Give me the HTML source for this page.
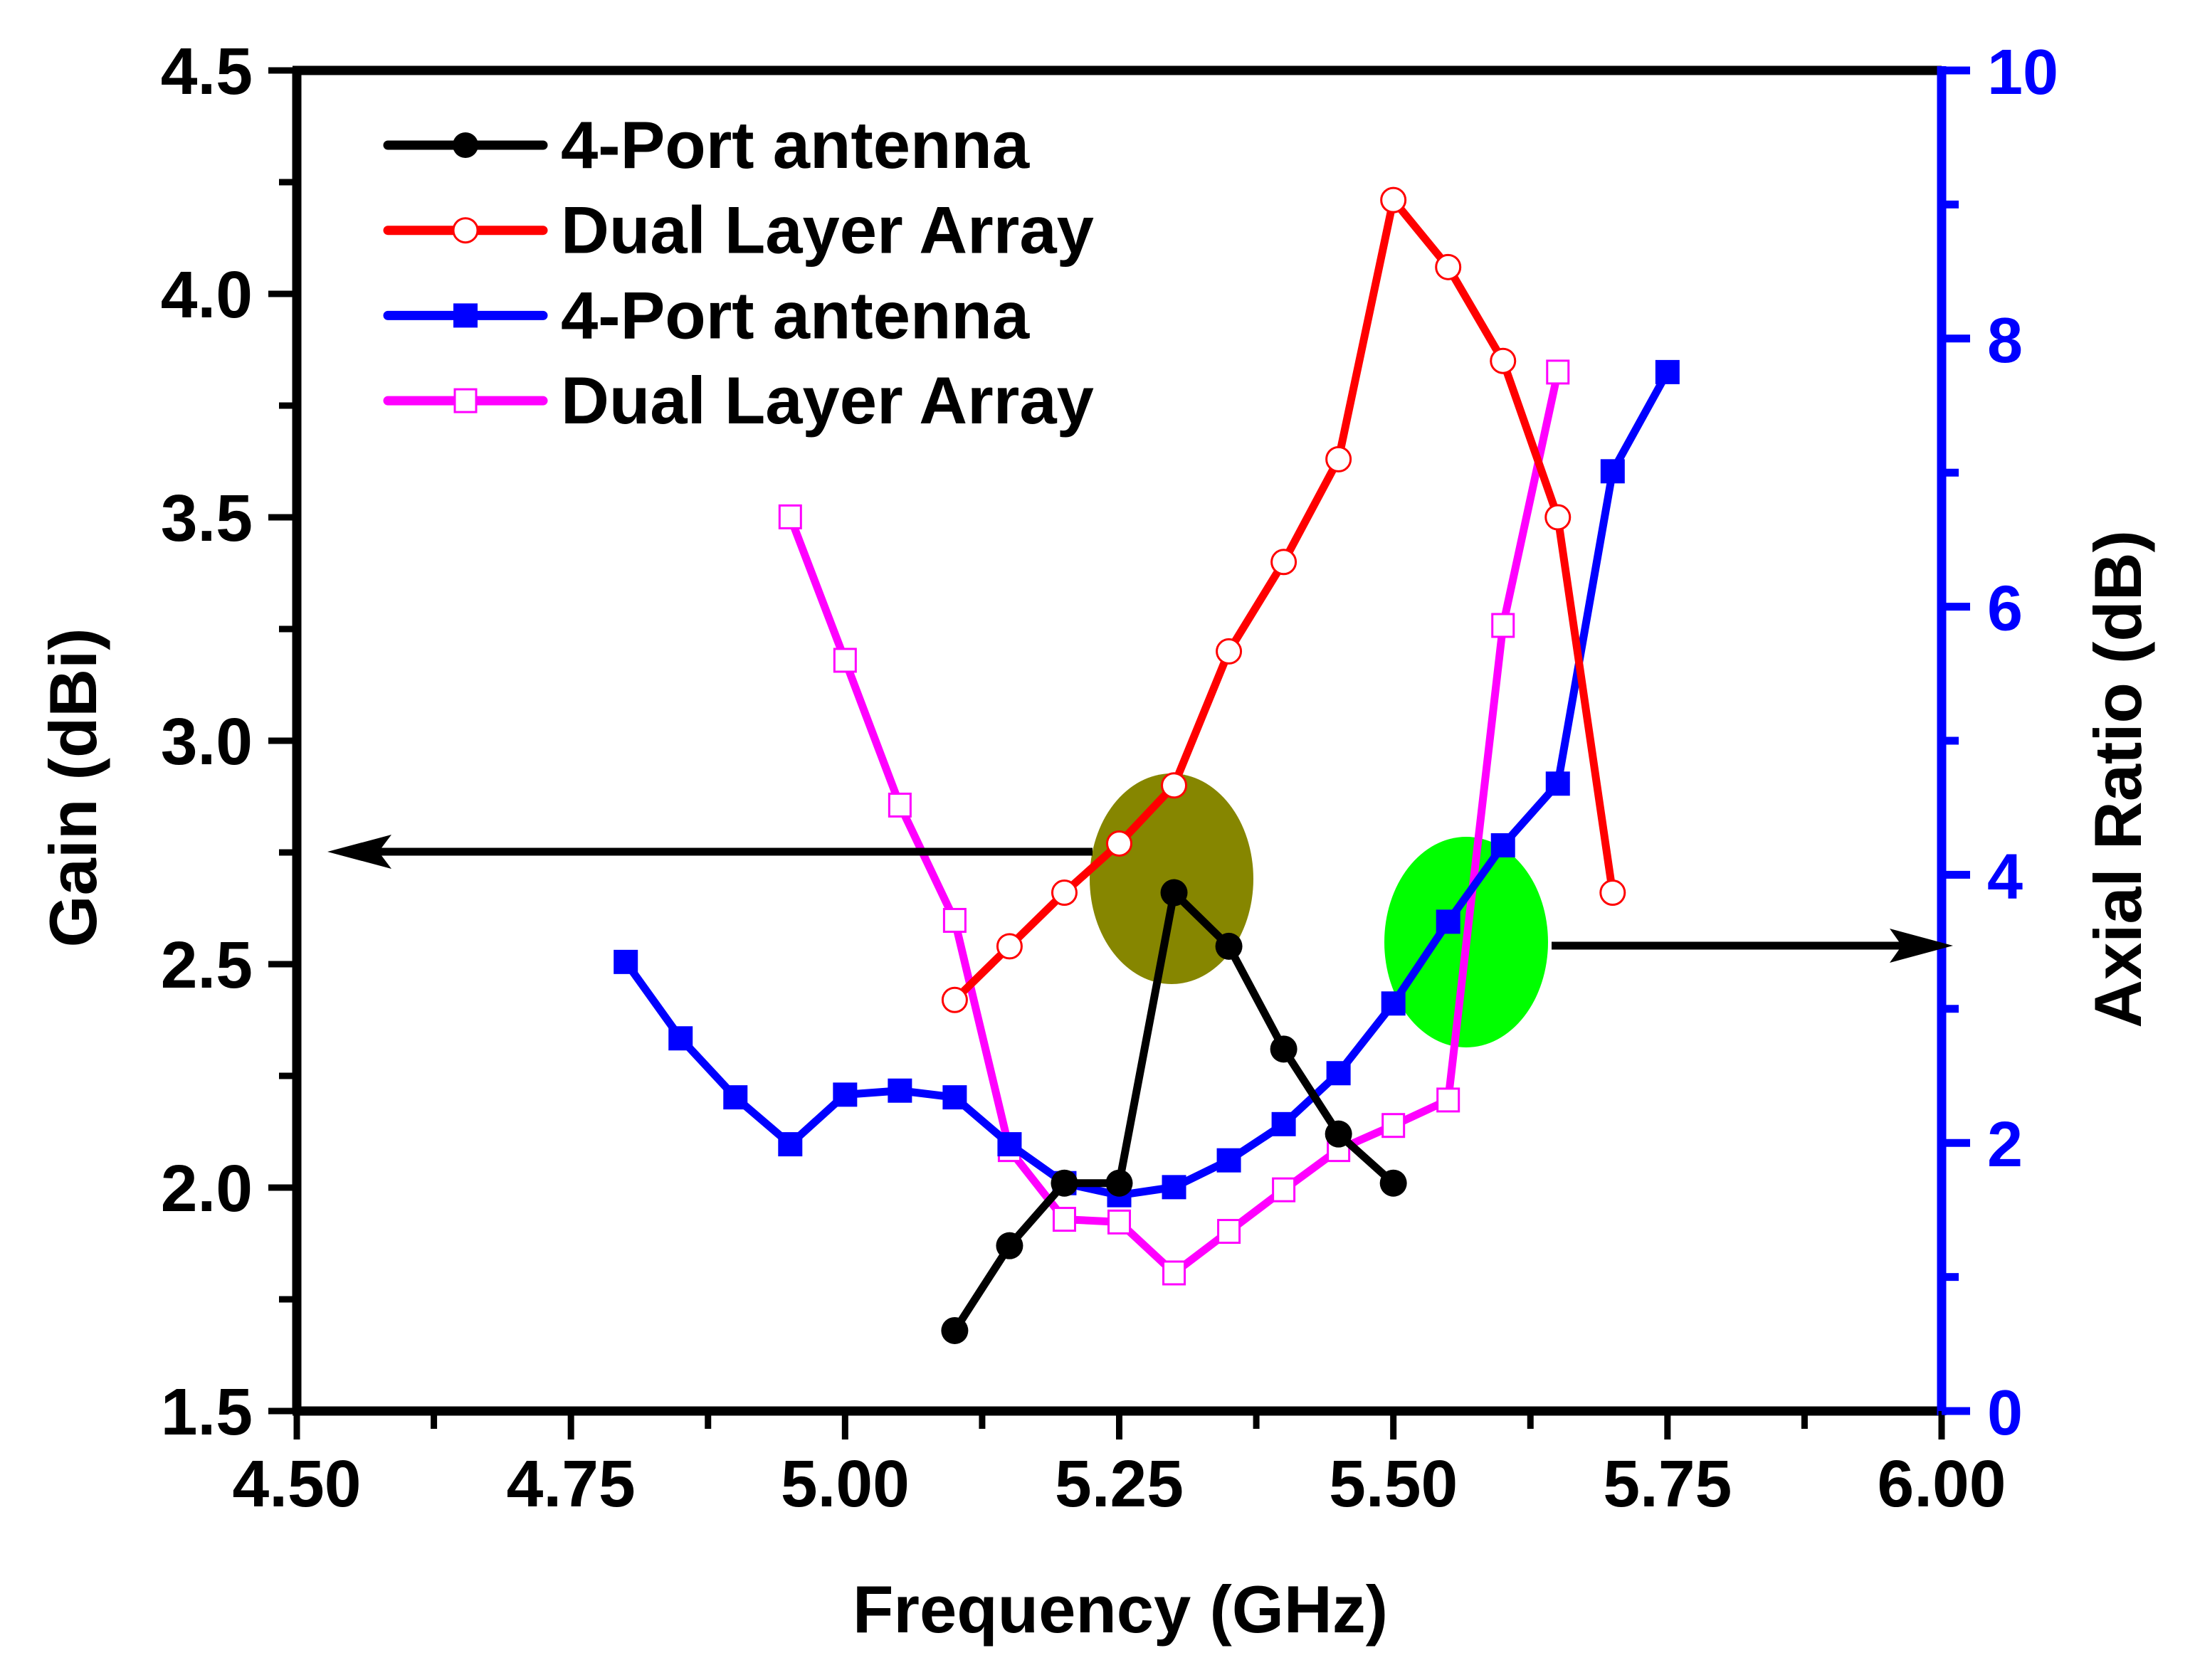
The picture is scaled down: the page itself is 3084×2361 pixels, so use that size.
<!DOCTYPE html>
<html><head><meta charset="utf-8"><style>
html,body{margin:0;padding:0;background:#fff;}
svg{display:block;}
text{font-family:"Liberation Sans",Arial,sans-serif;font-weight:bold;}
</style></head><body>
<svg id="chart" width="3084" height="2361" viewBox="0 0 3084 2361" xmlns="http://www.w3.org/2000/svg">
<rect x="0" y="0" width="3084" height="2361" fill="#fff"/>
<g id="annot">
<ellipse cx="1646" cy="1235" rx="115" ry="148" fill="#868600"/>
<ellipse cx="2060" cy="1324" rx="115" ry="148" fill="#00ff00"/>
</g>
<g id="series"></g>
<g id="axes"></g>
<g id="arrows">
<line x1="1535" y1="1197" x2="510" y2="1197" stroke="#000" stroke-width="11"/>
<polygon points="460,1197 550,1173 532,1197 550,1221" fill="#000"/>
<line x1="2180" y1="1329" x2="2690" y2="1329" stroke="#000" stroke-width="11"/>
<polygon points="2744,1329 2655,1305 2672,1329 2655,1353" fill="#000"/>
</g>
<g id="legend"></g>
<text x="1574" y="2294" font-size="94" text-anchor="middle">Frequency (GHz)</text>
<text transform="translate(135,1107) rotate(-90)" font-size="94" text-anchor="middle">Gain (dBi)</text>
<text transform="translate(3008,1095) rotate(-90)" font-size="94" text-anchor="middle">Axial Ratio (dB)</text>
</svg>
<script>
const freqBlack=[5.10,5.15,5.20,5.25,5.30,5.35,5.40,5.45,5.50];
const gainBlack=[1.68,1.87,2.01,2.01,2.66,2.54,2.31,2.12,2.01];
const freqRed=[5.10,5.15,5.20,5.25,5.30,5.35,5.40,5.45,5.50,5.55,5.60,5.65,5.70];
const gainRed=[2.42,2.54,2.66,2.77,2.90,3.20,3.40,3.63,4.21,4.06,3.85,3.50,2.66];
const freqBlue=[4.80,4.85,4.90,4.95,5.00,5.05,5.10,5.15,5.20,5.25,5.30,5.35,5.40,5.45,5.50,5.55,5.60,5.65,5.70,5.75];
const arBlue=[3.35,2.78,2.34,1.99,2.36,2.39,2.34,1.99,1.70,1.61,1.67,1.87,2.14,2.52,3.04,3.65,4.22,4.68,7.01,7.75];
const freqMag=[4.95,5.00,5.05,5.10,5.15,5.20,5.25,5.30,5.35,5.40,5.45,5.50,5.55,5.60,5.65];
const arMag=[6.67,5.60,4.52,3.66,1.95,1.43,1.41,1.03,1.34,1.65,1.95,2.13,2.32,5.86,7.75];
const xTicks=["4.50","4.75","5.00","5.25","5.50","5.75","6.00"];
const gainTicks=["1.5","2.0","2.5","3.0","3.5","4.0","4.5"];
const arTicks=["0","2","4","6","8","10"];
const legendLabels=["4-Port antenna","Dual Layer Array","4-Port antenna","Dual Layer Array"];

const NS="http://www.w3.org/2000/svg";
const X0=417,X1=2728,Y0=1983,Y1=99;
function xs(f){return X0+(f-4.5)/1.5*(X1-X0);}
function yg(g){return Y0-(g-1.5)/3*(Y0-Y1);}
function ya(a){return Y0-a/10*(Y0-Y1);}
function mk(tag,attrs,parent){const e=document.createElementNS(NS,tag);for(const k in attrs)e.setAttribute(k,attrs[k]);parent.appendChild(e);return e;}

const series=document.getElementById('series');
function drawSeries(xsArr,ysArr,yfn,color,marker,name){
  const g=mk('g',{},series);
  
  
  const pts=xsArr.map((f,i)=>xs(f)+','+yfn(ysArr[i])).join(' ');
  const pl=mk('polyline',{points:pts,fill:'none',stroke:color,'stroke-width':11,'stroke-linejoin':'round'},g);
  
  
  xsArr.forEach((f,i)=>{
    const cx=xs(f),cy=yfn(ysArr[i]);let m;
    if(marker==='fc')m=mk('circle',{cx:cx,cy:cy,r:19,fill:color},g);
    else if(marker==='oc')m=mk('circle',{cx:cx,cy:cy,r:17,fill:'#fff',stroke:color,'stroke-width':3},g);
    else if(marker==='fs')m=mk('rect',{x:cx-17,y:cy-17,width:34,height:34,fill:color},g);
    else m=mk('rect',{x:cx-15,y:cy-16,width:30,height:32,fill:'#fff',stroke:color,'stroke-width':3},g);
    
    
  });
}
drawSeries(freqMag,arMag,ya,'#ff00ff','os','dual-layer-axial-ratio');
drawSeries(freqBlue,arBlue,ya,'#0000ff','fs','four-port-axial-ratio');
drawSeries(freqRed,gainRed,yg,'#ff0000','oc','dual-layer-gain');
drawSeries(freqBlack,gainBlack,yg,'#000000','fc','four-port-gain');

const axes=document.getElementById('axes');
let e;
e=mk('line',{x1:X0-6,y1:Y1,x2:X1,y2:Y1,stroke:'#000','stroke-width':13},axes);


e=mk('line',{x1:X0,y1:Y1,x2:X0,y2:Y0,stroke:'#000','stroke-width':13},axes);


e=mk('line',{x1:X0-6,y1:Y0,x2:X1,y2:Y0,stroke:'#000','stroke-width':13},axes);


e=mk('line',{x1:X1,y1:Y1-6,x2:X1,y2:Y0+6,stroke:'#0000ff','stroke-width':13},axes);


for(let i=0;i<=12;i++){
  const f=4.5+i*0.125,x=xs(f),maj=i%2===0;
  e=mk('line',{x1:x,y1:Y0,x2:x,y2:Y0+(maj?40:25),stroke:'#000','stroke-width':9},axes);
  
  
}
xTicks.forEach(t=>{
  e=mk('text',{x:xs(parseFloat(t)),y:2117,'font-size':93,'text-anchor':'middle'},axes);
  e.textContent=t;
  
  
});
for(let i=0;i<=12;i++){
  const g=1.5+i*0.25,y=yg(g),maj=i%2===0;
  e=mk('line',{x1:X0,y1:y,x2:X0-(maj?40:25),y2:y,stroke:'#000','stroke-width':9},axes);
  
  
}
gainTicks.forEach(t=>{
  e=mk('text',{x:355,y:yg(parseFloat(t))+33,'font-size':93,'text-anchor':'end'},axes);
  e.textContent=t;
  
  
});
for(let i=0;i<=10;i++){
  const y=ya(i),maj=i%2===0;
  e=mk('line',{x1:X1,y1:y,x2:X1+(maj?40:24),y2:y,stroke:'#0000ff','stroke-width':11},axes);
  
  
}
arTicks.forEach(t=>{
  e=mk('text',{x:2792,y:ya(parseFloat(t))+33,'font-size':90,fill:'#0000ff'},axes);
  e.textContent=t;
  
  
});
const legend=document.getElementById('legend');
const lc=['#000000','#ff0000','#0000ff','#ff00ff'],lm=['fc','oc','fs','os'];
legendLabels.forEach((lab,i)=>{
  const y=204+i*119.7;
  const g=mk('g',{},legend);
  
  
  mk('line',{x1:545,y1:y,x2:763,y2:y,stroke:lc[i],'stroke-width':13,'stroke-linecap':'round'},g);
  let m;
  if(lm[i]==='fc')m=mk('circle',{cx:654,cy:y,r:18,fill:lc[i]},g);
  else if(lm[i]==='oc')m=mk('circle',{cx:654,cy:y,r:17,fill:'#fff',stroke:lc[i],'stroke-width':3},g);
  else if(lm[i]==='fs')m=mk('rect',{x:637,y:y-17,width:34,height:34,fill:lc[i]},g);
  else m=mk('rect',{x:639,y:y-16,width:30,height:32,fill:'#fff',stroke:lc[i],'stroke-width':3},g);
  
  
  const t=mk('text',{x:788,y:y+32,'font-size':94},g);
  t.textContent=lab;
  
  
});
</script>
</body></html>
